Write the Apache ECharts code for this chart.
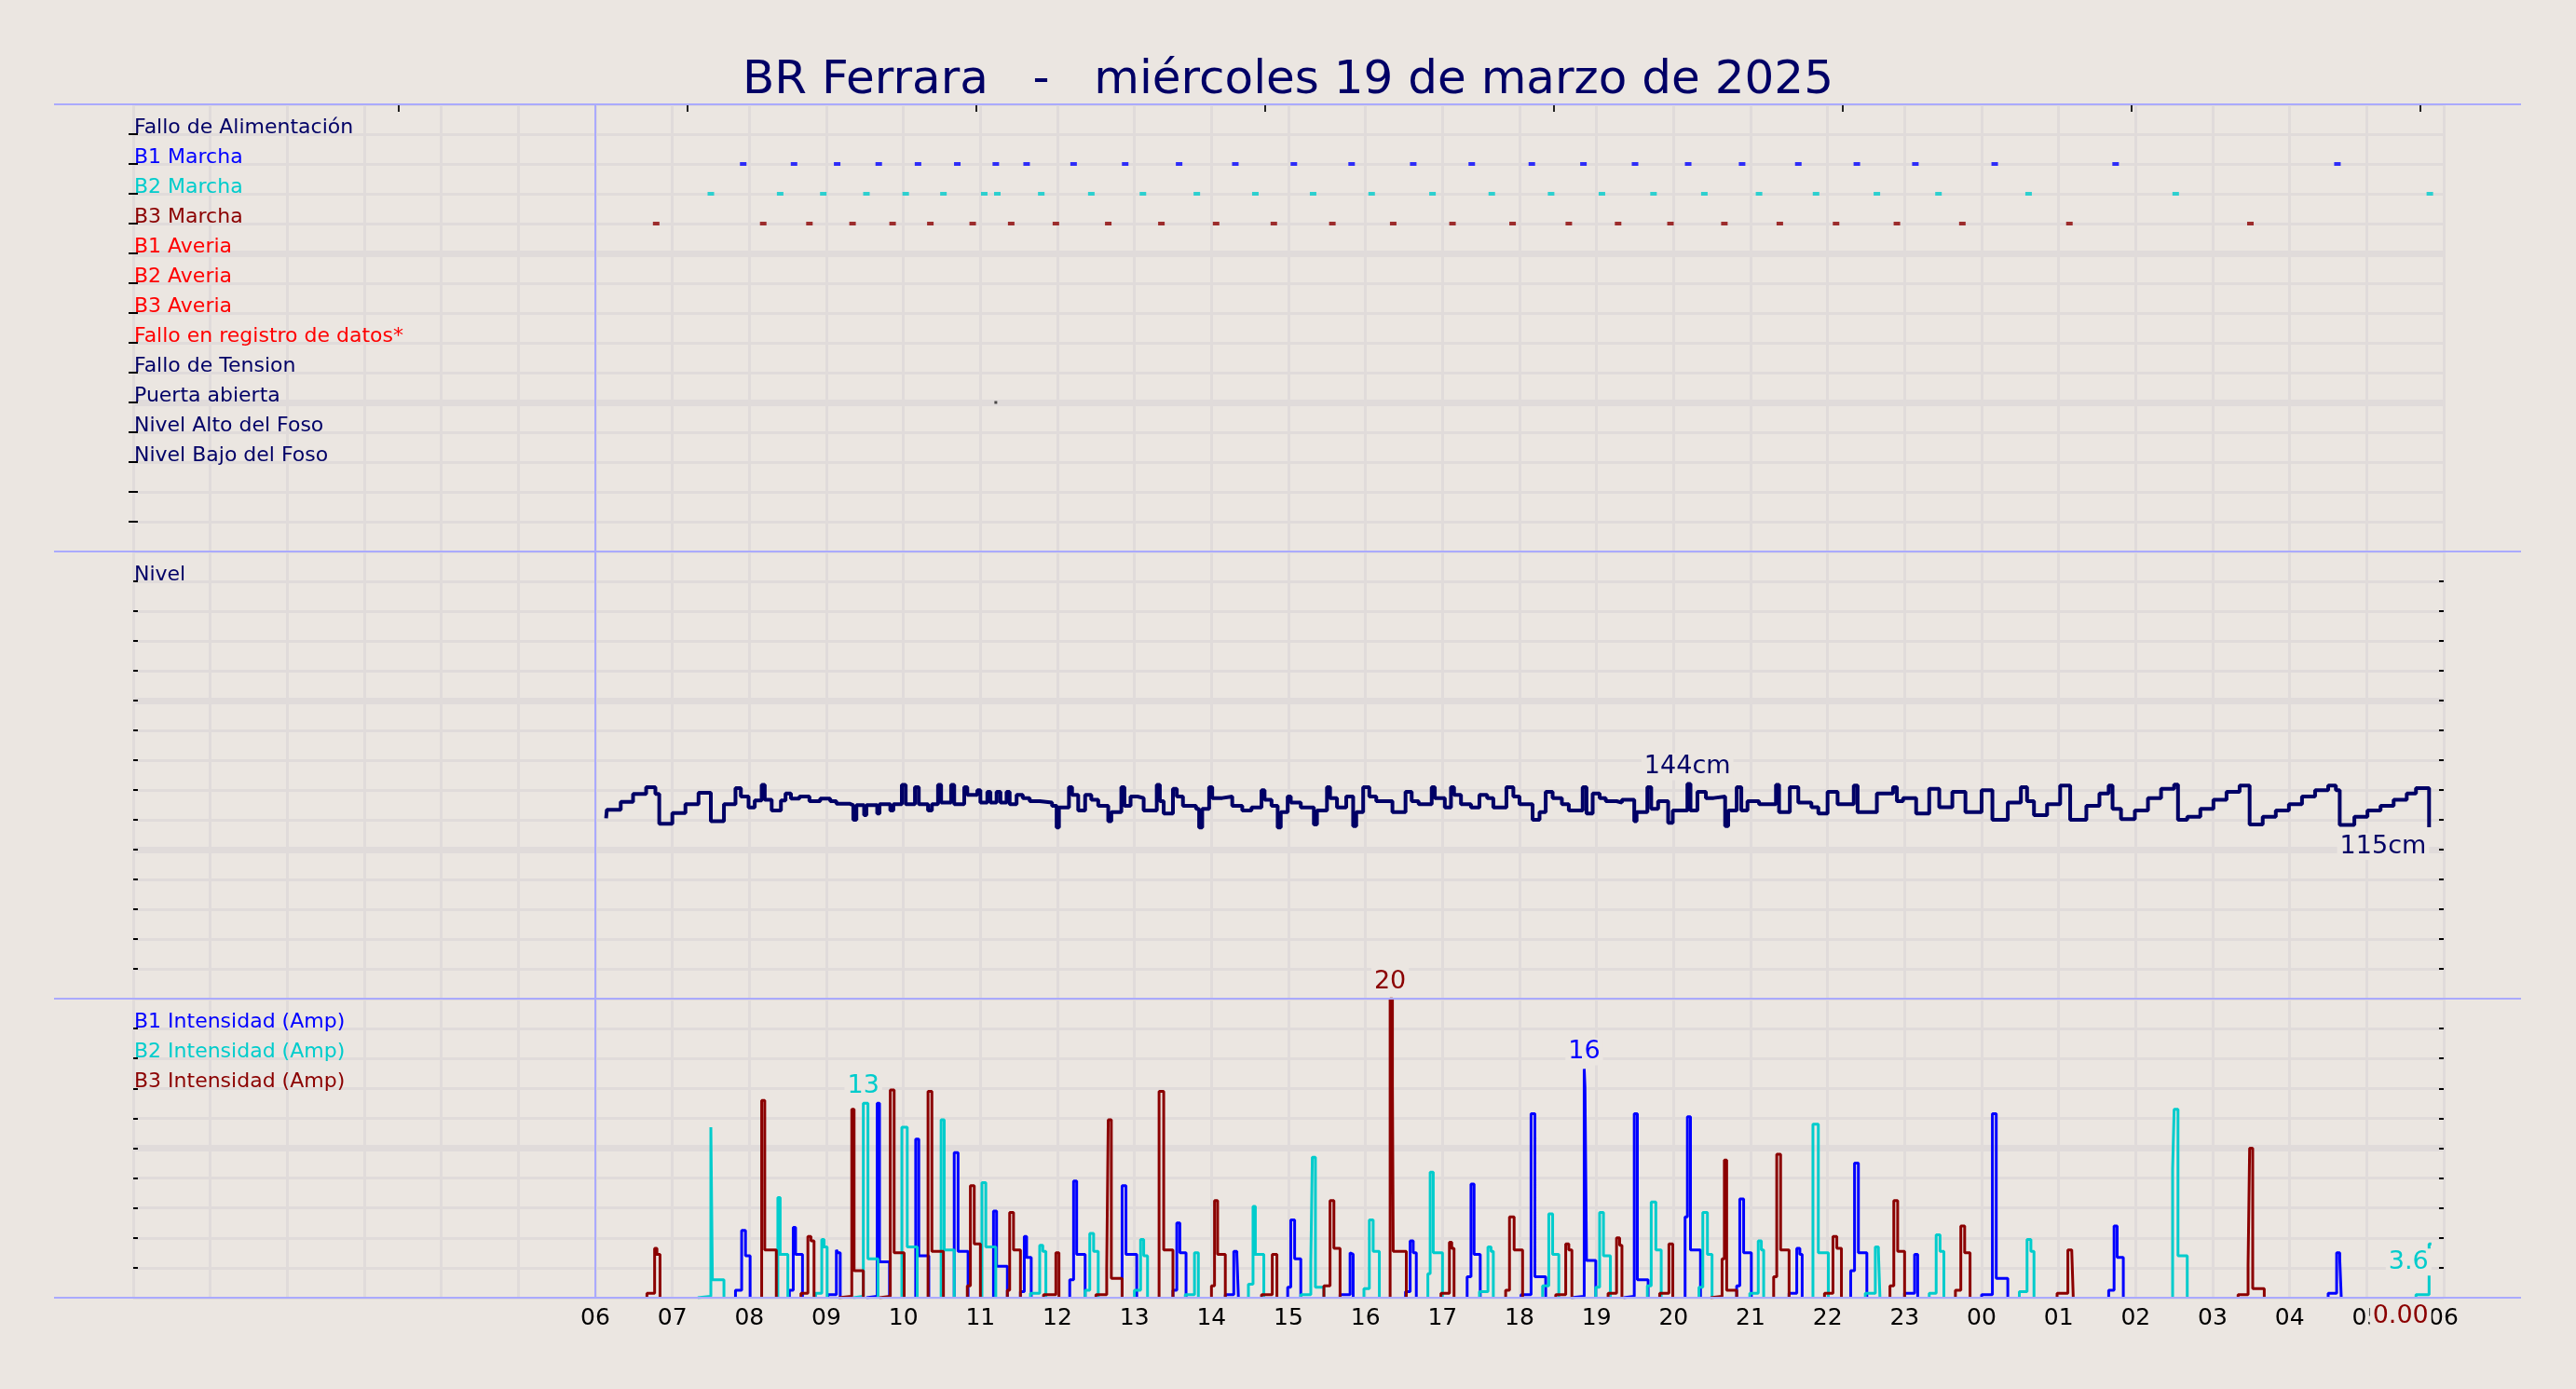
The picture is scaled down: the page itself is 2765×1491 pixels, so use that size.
<!DOCTYPE html>
<html>
<head>
<meta charset="utf-8">
<script src="https://cdn.jsdelivr.net/npm/echarts@6/dist/echarts.min.js"></script>
<style>
  html,body{margin:0;padding:0;background:#ebe6e1;}
  #chart{width:2765px;height:1491px;}
</style>
</head>
<body>
<div id="chart"></div>
<script>
// ---------------- DATA ----------------
const titleText = 'BR Ferrara   -   miércoles 19 de marzo de 2025';

// x axis: hours since 00:00 of the day (6 = 06:00, 30 = 06:00 next day)
const hourLabels = ['06','07','08','09','10','11','12','13','14','15','16','17','18','19','20','21','22','23','00','01','02','03','04','05','06'];
const topTickHours = [3.44, 7.19, 10.94, 14.69, 18.44, 22.19, 25.94, 29.69];

const eventRows = ['Fallo de Alimentación','B1 Marcha','B2 Marcha','B3 Marcha','B1 Averia','B2 Averia','B3 Averia',
  'Fallo en registro de datos*','Fallo de Tension','Puerta abierta','Nivel Alto del Foso','Nivel Bajo del Foso'];
const eventRowColors = ['#000066','#0000ff','#00cccc','#8b0000','#ff0000','#ff0000','#ff0000','#ff0000','#000066','#000066','#000066','#000066'];

const b1Marcha = [7.92,8.58,9.14,9.68,10.19,10.70,11.20,11.60,12.21,12.88,13.58,14.31,15.07,15.82,16.62,17.38,18.16,18.83,19.50,20.19,20.89,21.62,22.38,23.14,24.17,25.74,28.62];
const b2Marcha = [7.50,8.40,8.96,9.52,10.03,10.52,11.05,11.22,11.79,12.44,13.11,13.81,14.57,15.32,16.08,16.87,17.64,18.41,19.07,19.74,20.40,21.11,21.85,22.64,23.44,24.61,26.52,29.82];
const b3Marcha = [6.79,8.18,8.78,9.34,9.86,10.35,10.90,11.40,11.98,12.66,13.35,14.06,14.81,15.57,16.36,17.13,17.91,18.64,19.28,19.96,20.66,21.38,22.11,22.90,23.75,25.14,27.49];
const puertaAbierta = [11.20];

const levelLabel = 'Nivel';
const levelData = [[6.14,121.0],[6.15,126.7],[6.33,132.1],[6.49,137.3],[6.66,141.9],[6.78,137.3],[6.83,117.3],[7.00,124.6],[7.17,130.4],[7.34,138.1],[7.50,119.0],[7.67,130.4],[7.82,141.3],[7.89,135.6],[7.99,128.3],[8.07,132.9],[8.16,143.5],[8.20,133.5],[8.29,126.3],[8.41,132.9],[8.47,137.7],[8.54,134.2],[8.65,135.6],[8.78,132.5],[8.92,134.2],[9.05,132.5],[9.13,130.8],[9.30,129.8],[9.35,120.0],[9.39,129.8],[9.49,123.1],[9.52,129.8],[9.66,124.2],[9.69,130.4],[9.83,126.3],[9.87,130.4],[9.98,143.5],[10.03,130.4],[10.15,141.9],[10.20,130.4],[10.32,126.3],[10.37,130.4],[10.45,143.5],[10.49,131.5],[10.62,143.5],[10.66,130.4],[10.79,141.9],[10.83,136.7],[10.96,139.8],[11.00,131.5],[11.09,138.8],[11.13,131.5],[11.21,138.8],[11.26,131.5],[11.34,138.8],[11.38,130.4],[11.47,136.7],[11.55,134.6],[11.64,132.5],[11.77,131.5],[11.93,129.4],[11.99,114.8],[12.02,128.3],[12.15,141.9],[12.19,136.7],[12.27,126.3],[12.36,136.7],[12.44,133.5],[12.53,129.4],[12.66,119.0],[12.70,125.2],[12.83,141.9],[12.87,129.4],[12.95,135.6],[13.04,134.6],[13.12,126.3],[13.29,143.5],[13.33,132.5],[13.38,124.2],[13.50,140.8],[13.55,135.6],[13.63,129.4],[13.80,127.3],[13.84,114.8],[13.88,127.3],[13.97,141.9],[14.01,134.6],[14.14,135.6],[14.27,129.4],[14.40,126.3],[14.52,128.3],[14.65,139.8],[14.69,133.5],[14.78,129.4],[14.86,114.8],[14.90,125.2],[14.99,135.6],[15.03,131.5],[15.16,128.3],[15.33,116.9],[15.37,126.3],[15.50,141.9],[15.54,134.6],[15.63,128.3],[15.75,135.6],[15.84,115.8],[15.88,125.2],[15.97,141.9],[16.05,135.6],[16.14,132.5],[16.35,125.2],[16.52,138.8],[16.60,132.5],[16.69,130.4],[16.86,141.9],[16.90,134.6],[17.03,128.3],[17.11,141.9],[17.15,136.7],[17.24,130.4],[17.37,128.3],[17.48,136.7],[17.58,134.6],[17.66,128.3],[17.83,141.9],[17.92,135.6],[18.00,130.4],[18.17,120.0],[18.26,125.2],[18.34,138.8],[18.43,134.6],[18.55,130.4],[18.64,126.3],[18.82,141.9],[18.87,124.2],[18.95,137.7],[19.04,134.6],[19.12,132.5],[19.26,131.5],[19.33,133.5],[19.49,119.0],[19.52,125.2],[19.66,141.9],[19.71,127.3],[19.80,132.5],[19.93,117.9],[19.99,126.3],[20.18,144.0],[20.22,126.3],[20.31,138.8],[20.42,134.6],[20.52,135.6],[20.67,115.8],[20.71,126.3],[20.82,141.9],[20.88,126.3],[20.96,132.5],[21.11,130.4],[21.33,143.5],[21.37,125.2],[21.51,141.9],[21.62,131.5],[21.79,128.4],[21.88,124.2],[22.00,138.8],[22.13,130.4],[22.34,143.0],[22.39,125.2],[22.64,137.7],[22.85,141.9],[22.90,132.5],[22.98,134.6],[23.15,124.2],[23.32,140.8],[23.45,128.4],[23.62,138.8],[23.79,125.2],[24.00,139.8],[24.14,120.0],[24.34,131.5],[24.51,141.9],[24.59,132.5],[24.68,123.1],[24.85,130.4],[25.02,142.9],[25.15,120.0],[25.36,129.4],[25.53,137.7],[25.65,142.9],[25.70,127.3],[25.81,120.4],[25.99,126.3],[26.16,134.6],[26.33,140.8],[26.50,143.6],[26.55,120.0],[26.67,122.1],[26.84,127.3],[27.01,133.5],[27.18,138.8],[27.35,143.0],[27.48,116.9],[27.65,122.1],[27.82,126.3],[27.99,130.4],[28.16,135.6],[28.33,139.8],[28.50,143.0],[28.60,139.8],[28.65,116.5],[28.84,122.1],[29.01,126.3],[29.18,129.4],[29.35,133.5],[29.52,137.7],[29.64,141.3],[29.81,115.0]];

const currentLabels = ['B1 Intensidad (Amp)','B2 Intensidad (Amp)','B3 Intensidad (Amp)'];
const currentMaxText = ['16','13','20'];

// pump current runs: [hour, amps] points, each run ends back at 0
const b1Runs = [
 [[7.82,0.5],[7.90,4.5],[7.95,2.8],[8.01,0]],
 [[8.52,0.5],[8.57,4.7],[8.60,2.9],[8.69,0]],
 [[9.02,0.2],[9.13,3.2],[9.15,3.0],[9.18,0]],
 [[9.52,0.1],[9.66,13.0],[9.69,2.4],[9.82,0]],
 [[10.16,10.6],[10.20,2.8],[10.33,0]],
 [[10.66,9.7],[10.71,3.1],[10.84,0]],
 [[11.17,5.8],[11.21,2.1],[11.35,0]],
 [[11.52,0.4],[11.57,4.1],[11.60,2.7],[11.66,0]],
 [[12.16,1.2],[12.21,7.8],[12.25,2.9],[12.36,0]],
 [[12.84,7.5],[12.89,2.9],[13.03,0]],
 [[13.50,0.5],[13.55,5.0],[13.59,3.0],[13.67,0]],
 [[14.18,0.2],[14.29,3.1],[14.33,2.9],[14.35,0]],
 [[14.99,0.7],[15.03,5.2],[15.08,2.6],[15.16,0]],
 [[15.67,0.2],[15.80,3.0],[15.82,2.9],[15.84,0]],
 [[16.52,0.4],[16.58,3.8],[16.62,3.0],[16.66,0]],
 [[17.32,1.4],[17.37,7.6],[17.41,2.9],[17.49,0]],
 [[18.02,0.2],[18.15,12.3],[18.20,1.4],[18.34,0]],
 [[18.67,0.1],[18.84,15.3],[18.85,14.1],[18.87,2.5],[18.99,0]],
 [[19.35,0.1],[19.49,12.3],[19.53,1.2],[19.67,0]],
 [[20.15,5.4],[20.18,12.1],[20.22,3.2],[20.35,0]],
 [[20.82,0.8],[20.86,6.6],[20.91,3.0],[21.01,0]],
 [[21.50,0.3],[21.60,3.3],[21.64,2.9],[21.67,0]],
 [[22.30,1.8],[22.35,9.0],[22.40,3.0],[22.51,0]],
 [[23.00,0.3],[23.13,2.9],[23.17,0]],
 [[24.00,0.2],[24.14,12.3],[24.19,1.3],[24.34,0]],
 [[25.65,0.5],[25.72,4.8],[25.76,2.7],[25.84,0]],
 [[28.50,0.3],[28.61,3.0],[28.65,2.6],[28.67,0]]
];
const b2Runs = [
 [[7.33,0.1],[7.50,11.4],[7.52,1.2],[7.67,0]],
 [[8.37,6.7],[8.40,2.9],[8.50,0]],
 [[8.86,0.3],[8.94,3.9],[8.97,3.4],[9.01,0]],
 [[9.35,0.1],[9.48,13.0],[9.54,2.6],[9.67,0]],
 [[9.98,11.4],[10.05,3.4],[10.18,0]],
 [[10.49,11.9],[10.53,3.2],[10.66,0]],
 [[11.02,7.7],[11.07,3.4],[11.20,0]],
 [[11.65,0.3],[11.77,3.5],[11.81,3.1],[11.85,0]],
 [[12.36,0.5],[12.42,4.3],[12.47,3.1],[12.53,0]],
 [[13.00,0.5],[13.08,3.9],[13.12,2.8],[13.17,0]],
 [[13.66,0.2],[13.78,3.0],[13.83,0]],
 [[14.48,0.9],[14.54,6.1],[14.57,2.9],[14.68,0]],
 [[15.16,0.2],[15.29,2.4],[15.31,9.4],[15.35,0.7],[15.46,0]],
 [[15.98,0.6],[16.05,5.2],[16.10,3.1],[16.18,0]],
 [[16.81,1.6],[16.84,8.4],[16.88,3.0],[17.00,0]],
 [[17.48,0.4],[17.59,3.4],[17.63,3.1],[17.66,0]],
 [[18.30,0.8],[18.38,5.6],[18.43,2.9],[18.51,0]],
 [[18.99,0.7],[19.04,5.7],[19.09,2.8],[19.18,0]],
 [[19.66,0.8],[19.71,6.4],[19.77,3.2],[19.84,0]],
 [[20.33,0.7],[20.38,5.7],[20.44,2.9],[20.50,0]],
 [[20.99,0.3],[21.10,3.8],[21.14,3.2],[21.17,0]],
 [[21.81,11.6],[21.88,3.0],[22.01,0]],
 [[22.49,0.3],[22.62,3.4],[22.66,3.1],[22.68,0]],
 [[23.32,0.3],[23.41,4.2],[23.46,3.1],[23.51,0]],
 [[24.49,0.4],[24.59,3.9],[24.64,3.1],[24.68,0]],
 [[26.48,8.6],[26.50,12.6],[26.55,2.8],[26.67,0]],
 [[29.64,0.2],[29.81,3.6],[29.84,3.6]]
];
const b3Runs = [
 [[6.67,0.3],[6.77,3.3],[6.80,2.9],[6.84,0]],
 [[8.16,13.2],[8.20,3.2],[8.35,0]],
 [[8.67,0.3],[8.76,4.1],[8.80,3.8],[8.84,0]],
 [[9.16,0.1],[9.33,12.6],[9.36,1.8],[9.48,0]],
 [[9.69,0.1],[9.83,13.9],[9.88,3.0],[10.01,0]],
 [[10.32,13.8],[10.37,3.1],[10.52,0]],
 [[10.83,0.8],[10.87,7.5],[10.92,3.6],[11.00,0]],
 [[11.35,0.5],[11.38,5.7],[11.43,3.2],[11.52,0]],
 [[11.82,0.2],[11.98,3.0],[12.02,0]],
 [[12.50,0.2],[12.64,2.0],[12.66,11.9],[12.70,1.3],[12.84,0]],
 [[13.32,13.8],[13.38,3.2],[13.50,0]],
 [[14.00,0.8],[14.04,6.5],[14.08,2.9],[14.18,0]],
 [[14.65,0.2],[14.79,2.9],[14.85,0]],
 [[15.46,0.8],[15.54,6.5],[15.59,3.3],[15.67,0]],
 [[16.32,20.0],[16.35,14.2],[16.36,3.1],[16.53,0]],
 [[16.98,0.3],[17.09,3.7],[17.12,3.3],[17.15,0]],
 [[17.82,0.5],[17.87,5.4],[17.93,3.2],[18.04,0]],
 [[18.47,0.2],[18.60,3.6],[18.64,3.2],[18.68,0]],
 [[19.15,0.3],[19.26,4.0],[19.30,3.5],[19.33,0]],
 [[19.82,0.3],[19.94,3.6],[19.99,0]],
 [[20.48,0.1],[20.63,2.6],[20.66,9.2],[20.69,0.5],[20.82,0]],
 [[21.30,1.4],[21.34,9.6],[21.39,3.2],[21.50,0]],
 [[21.96,0.3],[22.07,4.1],[22.12,3.3],[22.18,0]],
 [[22.81,0.8],[22.86,6.5],[22.91,3.1],[23.00,0]],
 [[23.66,0.5],[23.73,4.8],[23.78,3.0],[23.85,0]],
 [[24.98,0.3],[25.12,3.2],[25.17,3.1],[25.19,0]],
 [[27.33,0.2],[27.46,2.2],[27.48,10.0],[27.52,0.6],[27.67,0]],
 [[29.84,0]]
];

// ---------------- STYLE / LAYOUT ----------------
const BG = '#ebe6e1', GRID = '#e0dbda', SEP = '#aaaaff', NAVY = '#000066';
const C_B1 = '#0000ff', C_B2 = '#00cccc', C_B3 = '#8b0000';
const FONT = 'DejaVu Sans';
const PL = 143, PR = 2623;
const panels = [
  {top:112, height:480, min:0, max:15, interval:1, major:5, inverse:true},
  {top:592, height:480, min:0, max:300, interval:20, major:100, inverse:false},
  {top:1072, height:321, min:0, max:20, interval:2, major:10, inverse:false}
];
const sepLines = [112, 592, 1072, 1393];

function runsToData(runs){
  const out = [];
  runs.forEach(run => {
    out.push([run[0][0], 0]);
    run.forEach(p => out.push(p));
    out.push([run[run.length-1][0], '-']);
  });
  return out;
}

function labelFor(panel, v){
  if (panel === 0) { const k = Math.round(v); return (k >= 1 && k <= eventRows.length) ? eventRows[k-1] : ''; }
  if (panel === 1) { return Math.round(v) === 280 ? levelLabel : ''; }
  const k = Math.round(v);
  if (k === 18) return currentLabels[0];
  if (k === 16) return currentLabels[1];
  if (k === 14) return currentLabels[2];
  return '';
}
function colorFor(panel, v){
  if (panel === 0) { const k = Math.round(v); return eventRowColors[k-1] || NAVY; }
  if (panel === 1) return NAVY;
  const k = Math.round(v);
  return k === 18 ? C_B1 : k === 16 ? C_B2 : k === 14 ? C_B3 : NAVY;
}

const grids = panels.map(p => ({left:PL, width:PR-PL, top:p.top, height:p.height}));

const xAxes = panels.map((p, i) => ({
  gridIndex:i, type:'value', min:0, max:30, interval:1,
  axisLine:{show:false}, axisTick:{show:false},
  splitLine:{show:true, lineStyle:{color:GRID, width:3}},
  axisLabel: i === 2 ? {
    show:true, margin:10, fontFamily:FONT, fontSize:25, color:'#000',
    showMinLabel:true, showMaxLabel:true,
    formatter: v => (v >= 6 && v <= 30) ? hourLabels[Math.round(v) - 6] : ''
  } : {show:false}
}));
xAxes.push({
  gridIndex:0, type:'value', position:'top', min:0, max:30,
  axisLine:{show:false}, axisLabel:{show:false}, splitLine:{show:false},
  axisTick:{show:true, inside:true, length:8, customValues: topTickHours, lineStyle:{color:'#222', width:2}}
});

const yAxes = [];
panels.forEach((p, i) => {
  yAxes.push({
    gridIndex:i, type:'value', position:'left', min:p.min, max:p.max, interval:p.interval, inverse:p.inverse,
    axisLine:{show:false},
    axisTick:{show:true, inside:true, length:5, lineStyle:{color:'#000', width:2}},
    splitLine:{show:true, lineStyle:{color:GRID, width:3}},
    axisLabel:{show:true, inside:true, margin:1, align:'left', verticalAlign:'bottom', lineHeight:14,
      fontFamily:FONT, fontSize:22,
      formatter: v => labelFor(i, v), color: (v) => colorFor(i, v)}
  });
  yAxes.push({
    gridIndex:i, type:'value', position:'right', min:p.min, max:p.max, interval:p.interval, inverse:p.inverse,
    axisLine:{show:false}, axisLabel:{show:false}, splitLine:{show:false},
    axisTick:{show:true, inside:true, length:5, lineStyle:{color:'#000', width:2}}
  });
  yAxes.push({
    gridIndex:i, type:'value', position:'left', min:p.min, max:p.max, interval:p.major, inverse:p.inverse,
    axisLine:{show:false}, axisLabel:{show:false}, axisTick:{show:false},
    splitLine:{show:true, showMinLine:false, showMaxLine:false, lineStyle:{color:GRID, width:7}}
  });
});

const vLine06 = {symbol:'none', silent:true, label:{show:false}, lineStyle:{color:SEP, width:2, type:'solid'}, data:[{xAxis:6}]};

function eventSeries(name, hours, row, color, size){
  return {name, type:'scatter', xAxisIndex:0, yAxisIndex:0, symbol:'rect', symbolSize:size,
    itemStyle:{color}, data: hours.map(h => [h, row]), z:3};
}

const valLabel = (color, extra) => Object.assign({show:true, fontFamily:FONT, fontSize:27, color,
  backgroundColor:BG, padding:[1,3]}, extra);

function currentSeries(name, runs, color, idx, lastText){
  const data = runsToData(runs);
  const last = runs[runs.length-1][runs[runs.length-1].length-1];
  const mpData = [{type:'max', valueIndex:1, symbolSize:0,
      label: valLabel(color, {position:'top', distance:4, formatter: () => currentMaxText[idx]})}];
  if (lastText) mpData.push({coord:last, symbolSize:0,
      label: valLabel(color, {position:'bottom', distance:5, align:'right', formatter: () => lastText(last[1])})});
  return {name, type:'line', xAxisIndex:2, yAxisIndex:6, step:'end', showSymbol:false, connectNulls:false,
    lineStyle:{color, width:3}, itemStyle:{color}, data,
    markPoint:{symbol:'circle', symbolSize:0, data:mpData}, z:2};
}

const lastLevel = levelData[levelData.length-1];

const series = [
  Object.assign(eventSeries('B1 Marcha', b1Marcha, 2, C_B1, [7,4]), {markLine: vLine06}),
  eventSeries('B2 Marcha', b2Marcha, 3, C_B2, [7,4]),
  eventSeries('B3 Marcha', b3Marcha, 4, C_B3, [7,4]),
  eventSeries('Puerta abierta', puertaAbierta, 10, '#222', [3,3]),
  {name:'Nivel', type:'line', xAxisIndex:1, yAxisIndex:3, step:'end', showSymbol:false,
    lineStyle:{color:NAVY, width:4}, itemStyle:{color:NAVY}, data: levelData, markLine: vLine06,
    markPoint:{symbol:'circle', symbolSize:0, data:[
      {type:'max', valueIndex:1, label: valLabel(NAVY, {position:'top', distance:4, formatter: p => Math.round(p.value) + 'cm'})},
      {coord:lastLevel, label: valLabel(NAVY, {position:'bottom', distance:6, align:'right', formatter: () => Math.round(lastLevel[1]) + 'cm'})}
    ]}},
  Object.assign(currentSeries('B1 Intensidad (Amp)', b1Runs, C_B1, 0, null), {markLine: vLine06}),
  currentSeries('B2 Intensidad (Amp)', b2Runs, C_B2, 1, v => String(v)),
  currentSeries('B3 Intensidad (Amp)', b3Runs, C_B3, 2, v => v.toFixed(2))
];

const graphics = sepLines.map(y => ({type:'line', z:3, silent:true,
  shape:{x1:58, y1:y, x2:2706, y2:y}, style:{stroke:SEP, lineWidth:2}}));

const option = {
  animation:false,
  backgroundColor:BG,
  title:{text:titleText, left:'center', top:57,
    textStyle:{fontFamily:FONT, fontSize:50, fontWeight:'normal', color:NAVY}},
  grid: grids,
  xAxis: xAxes,
  yAxis: yAxes,
  series,
  graphic: graphics
};

const chart = echarts.init(document.getElementById('chart'));
chart.setOption(option);
</script>
</body>
</html>
